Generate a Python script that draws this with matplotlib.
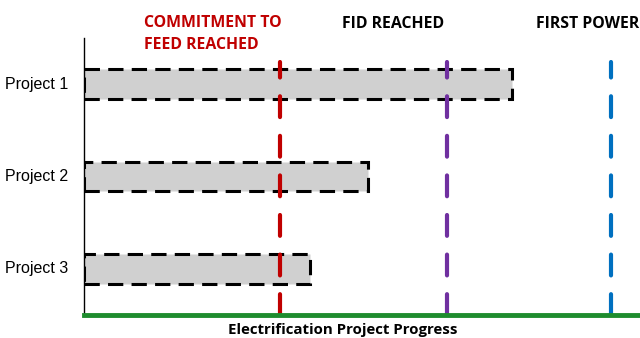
import matplotlib
matplotlib.use("Agg")
import matplotlib.pyplot as plt

projects = ["Project 1", "Project 2", "Project 3"]
progress = [77.0, 51.0, 40.6]
milestones = ["COMMITMENT TO\nFEED REACHED", "FID REACHED", "FIRST POWER"]
milestone_pos = [35.3, 65.3, 94.8]
milestone_colors = ["#C00000", "#7030A0", "#0070C0"]
xlabel = "Electrification Project Progress"

fig = plt.figure(figsize=(6.4, 3.38), dpi=100)
ax = fig.add_axes([84/640, 23/338, 556/640, 277/338])
ax.set_xlim(0, 100)
ax.set_ylim(0, 3)

ypos = [2.5, 1.5, 0.5]
for y, v in zip(ypos, progress):
    ax.barh(y, v, height=0.32, left=0, color="#D0D0D0", edgecolor="black",
            linewidth=2.2, linestyle=(0, (5, 2.7)), zorder=2)

for x, c in zip(milestone_pos, milestone_colors):
    ax.plot([x, x], [0, 2.74], color=c, linewidth=3.0,
            linestyle=(0, (5, 4.5)), dash_capstyle="round", zorder=3)

for s in ["top", "right"]:
    ax.spines[s].set_visible(False)
ax.spines["left"].set_linewidth(1.0)
ax.spines["bottom"].set_color("#1E8C2E")
ax.spines["bottom"].set_linewidth(3.5)
ax.spines["bottom"].set_zorder(4)
ax.set_xticks([])
ax.set_yticks(ypos)
ax.set_yticklabels(projects, fontsize=11.5, family="Liberation Sans")
ax.tick_params(axis="y", length=0, pad=11.5)
for lab in ax.get_yticklabels():
    lab.set_va("center")

tf = dict(family="Open Sans", fontweight="bold", fontsize=11.4)
lines = milestones[0].split("\n")
fig.text(144/640, 1 - 23/338, lines[0], color=milestone_colors[0],
         ha="left", va="center", **tf)
fig.text(144/640, 1 - 45/338, lines[1], color=milestone_colors[0],
         ha="left", va="center", **tf)
fig.text(393/640, 1 - 24/338, milestones[1], color="black", ha="center", va="center", **tf)
fig.text(588/640, 1 - 24/338, milestones[2], color="black", ha="center", va="center", **tf)
fig.text(343/640, 1 - 330/338, xlabel, color="black", ha="center", va="center",
         family="Open Sans", fontweight="bold", fontsize=10.8)

fig.savefig("out.png", dpi=100)
